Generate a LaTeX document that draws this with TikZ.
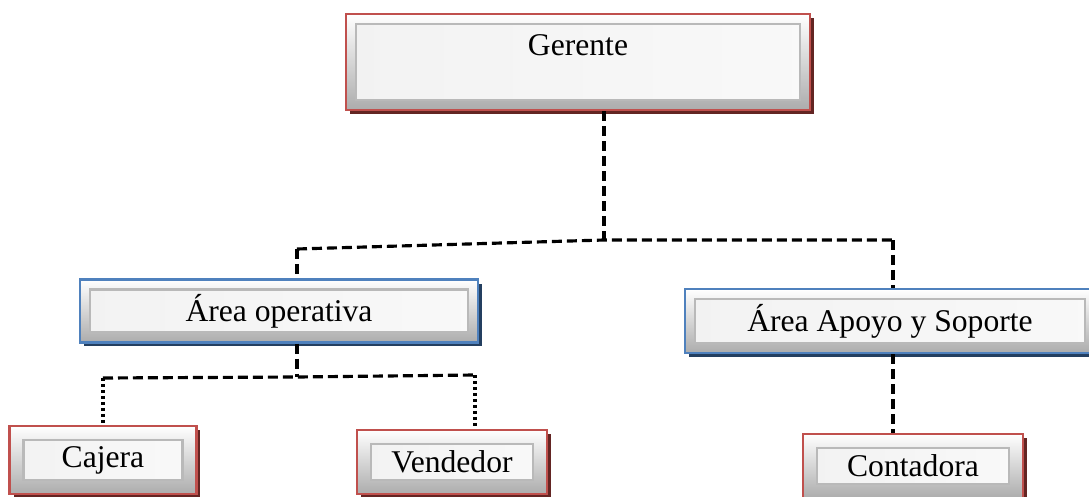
\documentclass[tikz,border=0pt]{standalone}
\usepackage{fontspec}
\setmainfont{Liberation Serif}
\usetikzlibrary{shadows}

\tikzset{
  bevel inset/.store in=\bevelinset, bevel inset=0.2cm,
  bevelbox/.style 2 args={draw=#1, line width=1.2pt, rectangle,
    font=\fontsize{18}{22}\selectfont, inner sep=0pt,
    drop shadow={shadow xshift=0.08cm, shadow yshift=-0.08cm, fill=#2, opacity=1},
    path picture={
      \shade[top color=white, bottom color=gray!65]
        (path picture bounding box.south west) rectangle (path picture bounding box.north east);
      \shade[left color=gray!10, right color=gray!5, draw=gray!55]
        ([shift={(\bevelinset,\bevelinset)}]path picture bounding box.south west)
        rectangle ([shift={(-\bevelinset,-\bevelinset)}]path picture bounding box.north east);
    }},
  redbox/.style={bevelbox={boxred}{shadowred}},
  bluebox/.style={bevelbox={boxblue}{shadowblue}},
  conn/.style={line width=1.8pt, dash pattern=on 0.2cm off 0.1cm},
  dotconn/.style={line width=1.8pt, dash pattern=on 0.06cm off 0.06cm}
}
\definecolor{boxred}{HTML}{C0504D}
\definecolor{shadowred}{HTML}{632523}
\definecolor{boxblue}{HTML}{4F81BD}
\definecolor{shadowblue}{HTML}{243F60}

\begin{document}
\begin{tikzpicture}[x=0.02cm, y=0.02cm]
  \useasboundingbox (0,0) rectangle (1089,-497);
  % Boxes
  \node[redbox, minimum width=9.28cm, minimum height=1.92cm,
        text height=0.45cm, text depth=0.73cm] (ger) at (578,-62) {Gerente};
  \node[bluebox, minimum width=7.96cm, minimum height=1.26cm] (ope) at (279,-311) {Área operativa};
  \node[bluebox, minimum width=8.2cm, minimum height=1.28cm] (apo) at (890,-321) {Área Apoyo y Soporte};
  \node[redbox, bevel inset=0.28cm, minimum width=3.74cm, minimum height=1.36cm] (caj) at (103,-460) {Cajera};
  \node[redbox, bevel inset=0.28cm, minimum width=3.8cm, minimum height=1.28cm] (ven) at (452,-462) {Vendedor};
  \node[redbox, bevel inset=0.28cm, minimum width=4.4cm, minimum height=1.28cm] (con) at (913,-466) {Contadora};
  % Junctions
  \coordinate (top) at (604,-240);
  \coordinate (jl) at (297,-249);
  \coordinate (jr) at (893,-240);
  \coordinate (mid) at (297,-377);
  \coordinate (kl) at (103,-378);
  \coordinate (kr) at (475,-375);
  % Lines
  \draw[conn] (ger.south -| top) -- (top);
  \draw[conn] (jl) -- (top) -- (jr);
  \draw[conn] (jl) -- (jl |- ope.north);
  \draw[conn] (jr) -- (jr |- apo.north);
  \draw[conn] (ope.south -| mid) -- (mid);
  \draw[conn] (kl) -- (mid) -- (kr);
  \draw[dotconn] (kl) -- (kl |- caj.north);
  \draw[dotconn] (kr) -- (kr |- ven.north);
  \draw[conn] (apo.south -| jr) -- (jr |- con.north);
\end{tikzpicture}
\end{document}
